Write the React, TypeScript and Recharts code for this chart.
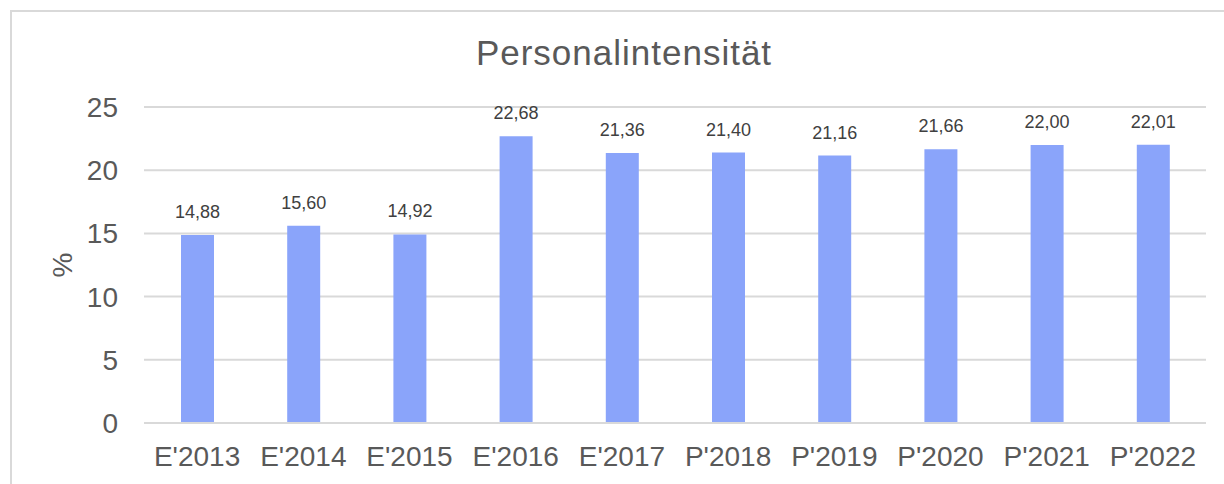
import React from 'react';
import { BarChart, Bar, XAxis, YAxis, CartesianGrid, LabelList } from 'recharts';

const categories = ["E'2013", "E'2014", "E'2015", "E'2016", "E'2017", "P'2018", "P'2019", "P'2020", "P'2021", "P'2022"];
const values = [14.88, 15.6, 14.92, 22.68, 21.36, 21.4, 21.16, 21.66, 22.0, 22.01];
const yTicks = [0, 5, 10, 15, 20, 25];
const title = 'Personalintensität';
const yLabel = '%';

const data = categories.map((c, i) => ({ name: c, value: values[i] }));

const FONT = '"Liberation Sans", Arial, sans-serif';
const TEXT = '#595959';
const GRID = '#d9d9d9';

const fmt = (v: any) => Number(v).toFixed(2).replace('.', ',');

const YLab = (props: any) => {
  const vb = props.viewBox || {};
  const cy = (vb.y ?? 0) + (vb.height ?? 0) / 2;
  return (
    <text
      x={62}
      y={cy}
      transform={`rotate(-90, 62, ${cy})`}
      textAnchor="middle"
      dominantBaseline="central"
      fill={TEXT}
      fontSize={28}
      fontFamily={FONT}
    >
      {yLabel}
    </text>
  );
};

export default function App() {
  return (
    <div style={{ position: 'absolute', left: 0, top: 0, width: 1224, height: 484, overflow: 'hidden', background: '#fff' }}>
      <div
        style={{
          position: 'absolute',
          left: 10,
          top: 10,
          width: 1400,
          height: 700,
          border: `2px solid ${GRID}`,
          boxSizing: 'border-box',
        }}
      />
      <div
        style={{
          position: 'absolute',
          left: 0,
          top: 33,
          width: 1248,
          textAlign: 'center',
          fontFamily: FONT,
          fontSize: 35,
          letterSpacing: 1,
          color: TEXT,
          lineHeight: '40px',
        }}
      >
        {title}
      </div>
      <div style={{ position: 'absolute', left: 0, top: 0 }}>
        <BarChart
          width={1224}
          height={484}
          data={data}
          margin={{ top: 107, right: 18, bottom: 0, left: 0 }}
          barCategoryGap={0}
        >
          <CartesianGrid vertical={false} stroke={GRID} strokeWidth={2} />
          <XAxis
            dataKey="name"
            height={61}
            axisLine={{ stroke: GRID, strokeWidth: 2 }}
            tickLine={false}
            tickSize={0}
            tickMargin={23}
            interval={0}
            tick={{ fill: TEXT, fontSize: 28, fontFamily: FONT }}
          />
          <YAxis
            width={144}
            domain={[0, 25]}
            ticks={yTicks}
            axisLine={false}
            tickLine={false}
            tickSize={0}
            tickMargin={26}
            tick={{ fill: TEXT, fontSize: 28, fontFamily: FONT }}
            label={<YLab />}
          />
          <Bar dataKey="value" fill="#8aa4fa" barSize={33} isAnimationActive={false}>
            <LabelList
              dataKey="value"
              position="top"
              offset={17}
              formatter={fmt}
              fill="#404040"
              fontSize={18}
              fontFamily={FONT}
            />
          </Bar>
        </BarChart>
      </div>
    </div>
  );
}
